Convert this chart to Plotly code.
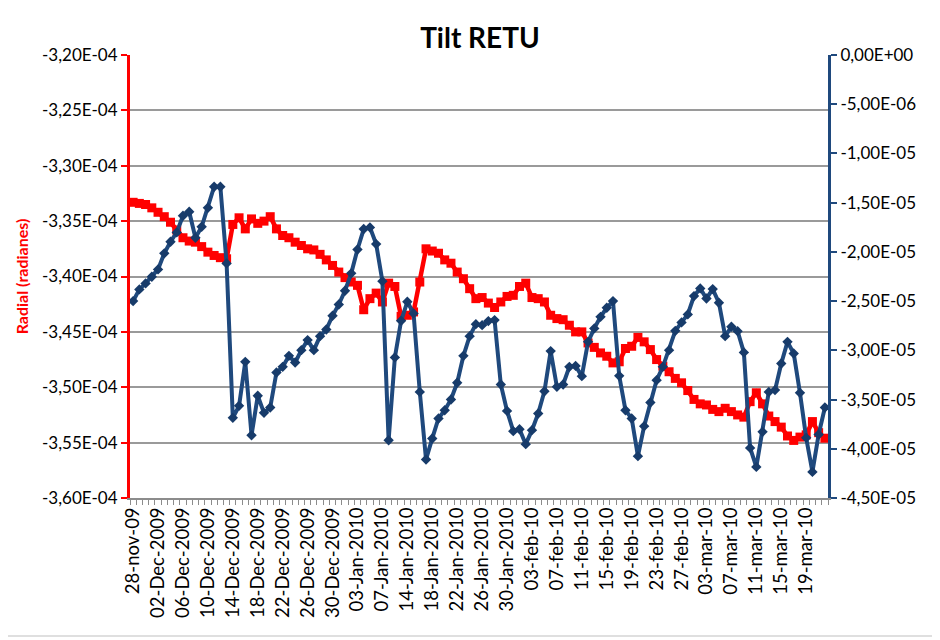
import plotly.graph_objects as go
import pandas as pd

# categories: daily readings, 3 days missing in early January
dates = [d for d in pd.date_range("2009-11-28", "2010-03-22")
         if d.strftime("%Y-%m-%d") not in ("2010-01-09", "2010-01-10", "2010-01-11")]
date_labels = [d.strftime("%d-%m-%Y") for d in dates]

# Radial tilt (x1e-4 radianes)
radial = [
    -3.333, -3.334, -3.335, -3.338, -3.342, -3.346, -3.351, -3.358, -3.365, -3.368,
    -3.369, -3.373, -3.378, -3.381, -3.383, -3.384, -3.353, -3.347, -3.357, -3.348,
    -3.352, -3.350, -3.346, -3.357, -3.363, -3.365, -3.369, -3.372, -3.375, -3.376,
    -3.380, -3.385, -3.390, -3.396, -3.401, -3.405, -3.408, -3.430, -3.420, -3.415,
    -3.423, -3.406, -3.409, -3.436, -3.435, -3.432, -3.405, -3.375, -3.377, -3.379,
    -3.385, -3.388, -3.396, -3.402, -3.411, -3.420, -3.419, -3.424, -3.428, -3.423,
    -3.418, -3.417, -3.409, -3.406, -3.419, -3.420, -3.423, -3.435, -3.438, -3.439,
    -3.444, -3.450, -3.450, -3.460, -3.464, -3.469, -3.472, -3.478, -3.477, -3.465,
    -3.463, -3.455, -3.459, -3.466, -3.475, -3.481, -3.486, -3.492, -3.496, -3.503,
    -3.511, -3.515, -3.516, -3.520, -3.522, -3.519, -3.522, -3.525, -3.527, -3.513,
    -3.505, -3.515, -3.526, -3.531, -3.536, -3.544, -3.548, -3.545, -3.543, -3.531,
    -3.541, -3.546,
]

# Tangential tilt (x1e-5 radianes)
tangencial = [
    -2.500, -2.381, -2.320, -2.253, -2.178, -2.015, -1.897, -1.802, -1.633, -1.592,
    -1.857, -1.745, -1.552, -1.338, -1.338, -2.117, -3.686, -3.564, -3.117, -3.862,
    -3.462, -3.635, -3.580, -3.225, -3.168, -3.056, -3.123, -2.998, -2.896, -2.998,
    -2.856, -2.788, -2.649, -2.534, -2.395, -2.218, -1.975, -1.768, -1.751, -1.921,
    -2.297, -3.913, -3.072, -2.700, -2.507, -2.625, -3.422, -4.109, -3.895, -3.692,
    -3.608, -3.499, -3.330, -3.056, -2.856, -2.734, -2.744, -2.703, -2.693, -3.347,
    -3.615, -3.821, -3.801, -3.953, -3.811, -3.641, -3.415, -3.008, -3.371, -3.347,
    -3.168, -3.158, -3.262, -2.914, -2.777, -2.660, -2.568, -2.500, -3.259, -3.608,
    -3.692, -4.075, -3.770, -3.530, -3.303, -3.168, -2.998, -2.802, -2.716, -2.635,
    -2.449, -2.371, -2.473, -2.378, -2.517, -2.856, -2.761, -2.805, -3.021, -3.991,
    -4.184, -3.828, -3.422, -3.404, -3.133, -2.914, -3.032, -3.432, -3.889, -4.235,
    -3.855, -3.580,
]

x_ticktext = [
    "28-nov-09", "02-Dec-2009", "06-Dec-2009", "10-Dec-2009", "14-Dec-2009",
    "18-Dec-2009", "22-Dec-2009", "26-Dec-2009", "30-Dec-2009", "03-Jan-2010",
    "07-Jan-2010", "14-Jan-2010", "18-Jan-2010", "22-Jan-2010", "26-Jan-2010",
    "30-Jan-2010", "03-feb-10", "07-feb-10", "11-feb-10", "15-feb-10", "19-feb-10",
    "23-feb-10", "27-feb-10", "03-mar-10", "07-mar-10", "11-mar-10", "15-mar-10",
    "19-mar-10",
]
left_tickvals = [-3.60e-4, -3.55e-4, -3.50e-4, -3.45e-4, -3.40e-4, -3.35e-4, -3.30e-4, -3.25e-4, -3.20e-4]
left_ticktext = ["-3,60E-04", "-3,55E-04", "-3,50E-04", "-3,45E-04", "-3,40E-04",
                 "-3,35E-04", "-3,30E-04", "-3,25E-04", "-3,20E-04"]
right_tickvals = [-4.5e-5, -4.0e-5, -3.5e-5, -3.0e-5, -2.5e-5, -2.0e-5, -1.5e-5, -1.0e-5, -5.0e-6, 0.0]
right_ticktext = ["-4,50E-05", "-4,00E-05", "-3,50E-05", "-3,00E-05", "-2,50E-05",
                  "-2,00E-05", "-1,50E-05", "-1,00E-05", "-5,00E-06", "0,00E+00"]

pos = list(range(len(dates)))
NAVY = "#1f497d"
FONT = "Lato"

fig = go.Figure()
fig.add_trace(go.Scatter(
    x=pos, y=[v * 1e-4 for v in radial], yaxis="y", name="Radial",
    mode="lines+markers", text=date_labels,
    line=dict(color="#ff0000", width=4.5),
    marker=dict(symbol="square", size=9, color="#ff0000"),
))
fig.add_trace(go.Scatter(
    x=pos, y=[v * 1e-5 for v in tangencial], yaxis="y2", name="Tangencial",
    mode="lines+markers", text=date_labels,
    line=dict(color=NAVY, width=4),
    marker=dict(symbol="diamond", size=8, color="#173b6a"),
))

# page body has an 8px margin, so the figure is sized to fit the 940x640 window
fig.update_layout(
    width=932, height=632,
    margin=dict(l=122, r=112, t=47, b=142),
    paper_bgcolor="white", plot_bgcolor="white",
    showlegend=False,
    font=dict(family=FONT, size=17, color="black"),
    title=dict(text="<b>Tilt RETU</b>", x=472 / 932, xanchor="center",
               y=1 - 30 / 632, yanchor="middle",
               font=dict(family=FONT, size=28, color="black")),
    xaxis=dict(
        range=[-0.5, len(dates) - 0.5],
        tickvals=pos[::4], ticktext=x_ticktext, tickangle=-90,
        ticks="", showgrid=False, zeroline=False,
        showline=True, linecolor="#8c8c8c", linewidth=2,
        tickfont=dict(family=FONT, size=18.5),
        minor=dict(ticks="outside", tick0=-0.5, dtick=1, ticklen=5,
                   tickcolor="#8c8c8c", tickwidth=1, showgrid=False),
    ),
    yaxis=dict(
        range=[-3.6e-4, -3.2e-4],
        tickvals=left_tickvals, ticktext=left_ticktext,
        showline=True, linecolor="#ff0000", linewidth=3,
        ticks="outside", tickcolor="#ff0000", ticklen=6, tickwidth=2,
        showgrid=True, gridcolor="#9a9a9a", gridwidth=1.5, zeroline=False,
        tickfont=dict(family=FONT, size=17),
    ),
    yaxis2=dict(
        range=[-4.5e-5, 0], overlaying="y", side="right", anchor="x",
        tickvals=right_tickvals, ticktext=right_ticktext,
        showline=True, linecolor=NAVY, linewidth=3,
        ticks="outside", tickcolor=NAVY, ticklen=6, tickwidth=2,
        showgrid=False, zeroline=False,
        tickfont=dict(family=FONT, size=17),
    ),
)

fig.add_annotation(text="<b>Radial (radianes)</b>", textangle=-90,
                   xref="paper", yref="paper", x=-0.155, y=0.5,
                   xanchor="center", yanchor="middle", showarrow=False,
                   font=dict(family=FONT, size=16, color="#ff0000"))
fig.add_annotation(text="<b>Tangencial (radianes)</b>", textangle=-90,
                   xref="paper", yref="paper", x=(929 - 130) / 698, y=0.5,
                   xanchor="left", yanchor="middle", showarrow=False,
                   font=dict(family=FONT, size=16, color=NAVY))

# chart-area border (right and bottom edges visible in the original)
fig.add_shape(type="line", xref="paper", yref="paper",
              x0=(937 - 130) / 698, x1=(937 - 130) / 698, y0=-(636 - 498) / 443, y1=498 / 443,
              line=dict(color="#bfbfbf", width=1))
fig.add_shape(type="line", xref="paper", yref="paper",
              x0=-130 / 698, x1=(937 - 130) / 698, y0=-(636 - 498) / 443, y1=-(636 - 498) / 443,
              line=dict(color="#bfbfbf", width=1))

fig.write_html("out.html")
